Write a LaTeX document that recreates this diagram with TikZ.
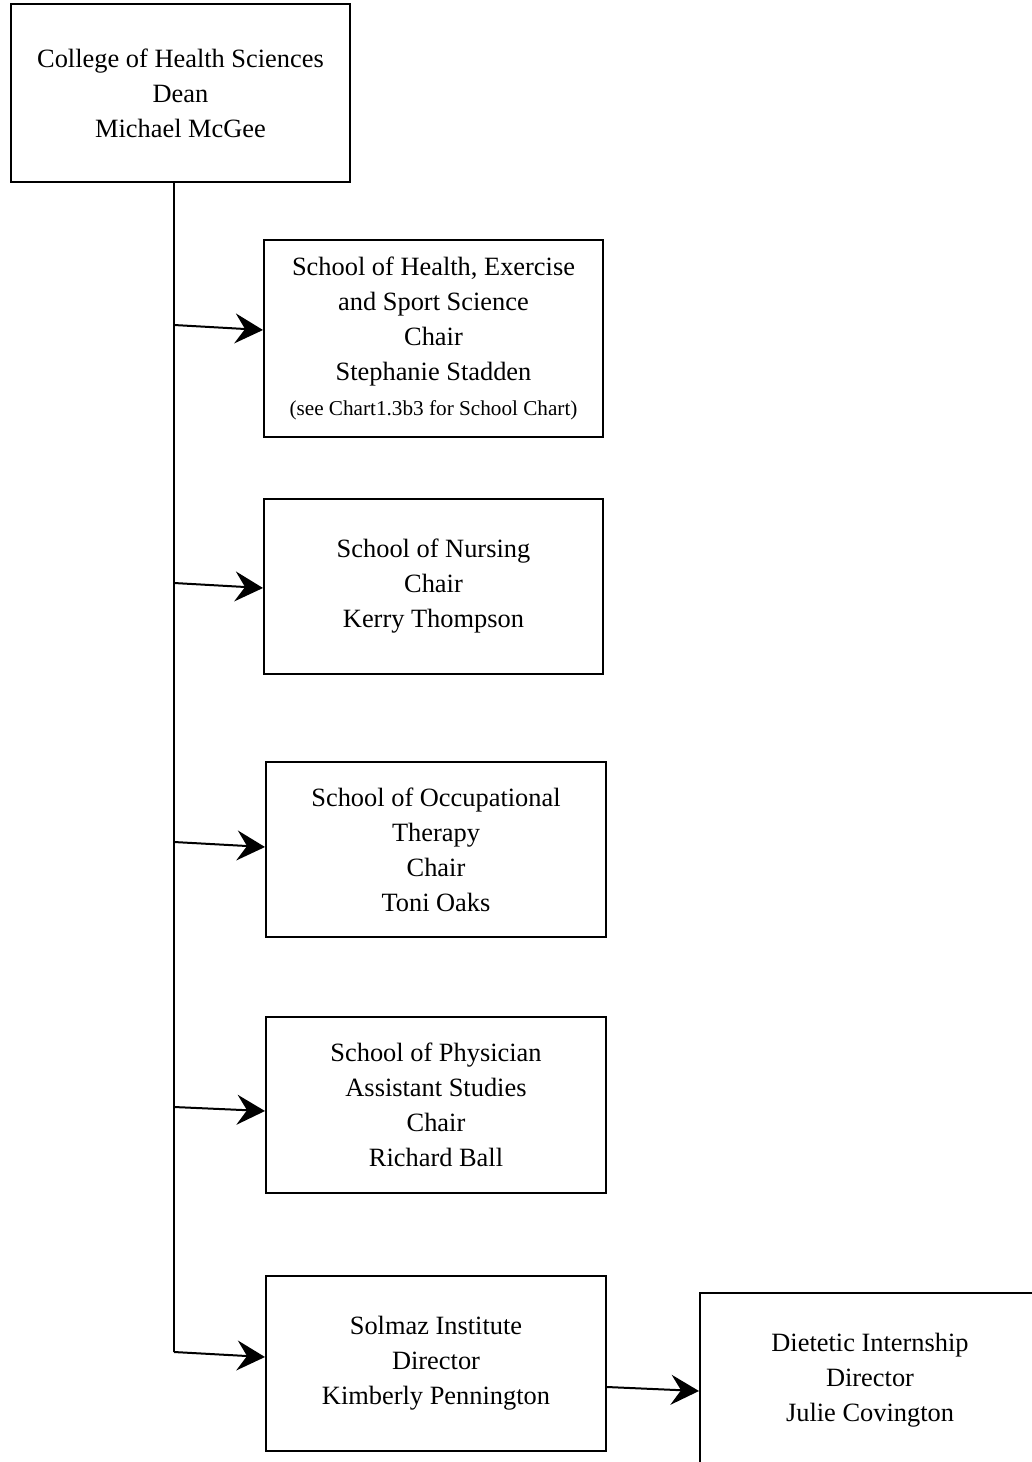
\documentclass[tikz,border=0pt]{standalone}
\usepackage{fontspec}
\setmainfont{Liberation Serif}
\usetikzlibrary{arrows.meta,calc}
\begin{document}
\begin{tikzpicture}[x=0.5pt,y=-0.5pt,
  box/.style={draw,line width=1pt,rectangle,inner sep=0pt,align=center,
    font=\fontsize{13.2}{17.5}\selectfont},
  conn/.style={line width=1pt,-{Stealth[length=14pt,width=15pt,inset=5pt]}}]
\useasboundingbox (0,0) rectangle (1032,1462);
\node[box,minimum width=169.5pt,minimum height=89pt] (dean) at (180.5,93)
  {College of Health Sciences\\Dean\\Michael McGee};
\node[box,minimum width=169.5pt,minimum height=98.5pt] (s1) at (433.5,338.5)
  {School of Health, Exercise\\and Sport Science\\Chair\\Stephanie Stadden\\
   {\fontsize{10.6}{17}\selectfont (see Chart1.3b3 for School Chart)}};
\node[box,minimum width=169.5pt,minimum height=87.5pt] (s2) at (433.5,586.5)
  {School of Nursing\\Chair\\Kerry Thompson};
\node[box,minimum width=170pt,minimum height=87.5pt] (s3) at (436,849.5)
  {School of Occupational\\Therapy\\Chair\\Toni Oaks};
\node[box,minimum width=170pt,minimum height=88pt] (s4) at (436,1105)
  {School of Physician\\Assistant Studies\\Chair\\Richard Ball};
\node[box,minimum width=170pt,minimum height=87.5pt] (s5) at (436,1363.5)
  {Solmaz Institute\\Director\\Kimberly Pennington};
\node[box,minimum width=170pt,minimum height=87pt] (s6) at (870,1380)
  {Dietetic Internship\\Director\\Julie Covington};
\coordinate (c1) at (174,325);
\coordinate (c2) at (174,583);
\coordinate (c3) at (174,842);
\coordinate (c4) at (174,1107);
\coordinate (c5) at (174,1352);
\draw[line width=1pt] (dean.south -| c1) -- (c5);
\draw[conn] (c1) -- ($(s1.west)+(0,-8.5)$);
\draw[conn] (c2) -- ($(s2.west)+(0,1.5)$);
\draw[conn] (c3) -- ($(s3.west)+(0,-2.5)$);
\draw[conn] (c4) -- ($(s4.west)+(0,6)$);
\draw[conn] (c5) -- ($(s5.west)+(0,-6.5)$);
\draw[conn] ($(s5.east)+(0,23.5)$) -- ($(s6.west)+(0,11)$);
\end{tikzpicture}
\end{document}
